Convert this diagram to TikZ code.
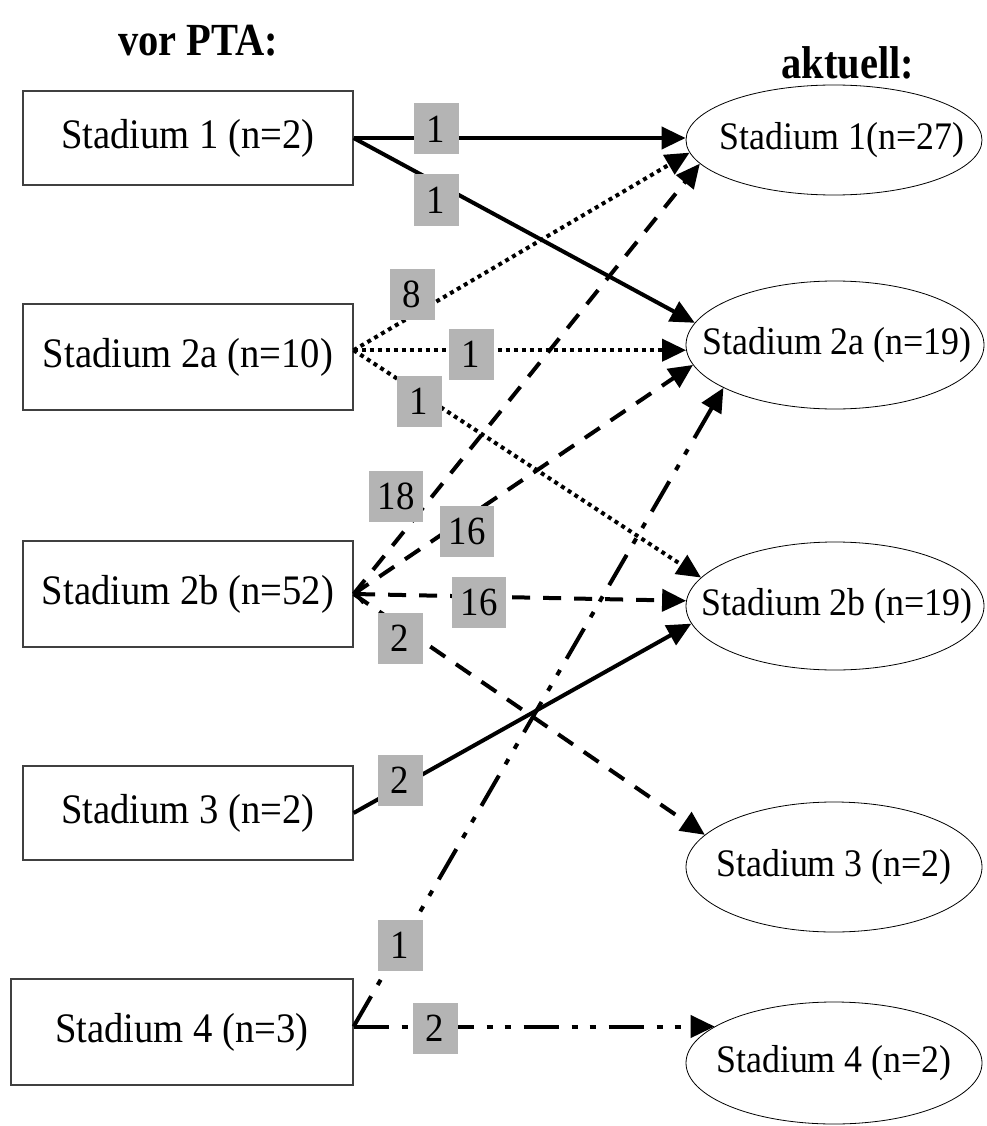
\documentclass[tikz,border=0pt]{standalone}
\usepackage{fontspec}
\setmainfont{Liberation Serif}
\newfontfamily\cfont[FakeStretch=0.92]{Liberation Serif}
\newfontfamily\tfont[FakeStretch=0.88]{Liberation Serif}
\usetikzlibrary{arrows.meta,shapes.geometric}
\definecolor{lblgray}{RGB}{180,180,180}
\begin{document}
\begin{tikzpicture}[x=1pt,y=-1pt,
  boxnode/.style={draw=black!75,line width=1.2pt,minimum width=330pt,minimum height=94pt,inner sep=0pt,font=\cfont\fontsize{42}{46}\selectfont},
  ellnode/.style={draw=black,line width=0.8pt,ellipse,inner sep=0pt},
  elltext/.style={inner sep=0pt,font=\cfont\fontsize{39}{42}\selectfont},
  lbl/.style={fill=lblgray,minimum width=45pt,minimum height=51pt,inner xsep=9pt,inner ysep=0pt,font=\cfont\fontsize{40}{44}\selectfont},
  conn/.style={line width=4pt,-{Triangle[length=24pt,width=22pt]}},
  dotline/.style={conn,dash pattern=on 4pt off 4pt},
  dashline/.style={conn,dash pattern=on 18pt off 13pt},
  ddline/.style={conn,dash pattern=on 35pt off 13pt on 6pt off 12pt on 6pt off 13pt},
  title/.style={font=\tfont\bfseries\fontsize{46}{48}\selectfont}
]
\useasboundingbox (0,0) rectangle (986,1126);
\fill[white] (0,0) rectangle (986,1126);

\node[title] (t1) at (198,41) {vor PTA:};
\node[title] (t2) at (848,63) {aktuell:};

\node[boxnode] (B1) at (188,138) {Stadium 1 (n=2)};
\node[boxnode,minimum height=106pt] (B2a) at (188,357) {Stadium 2a (n=10)};
\node[boxnode,minimum height=106pt] (B2b) at (188,594) {Stadium 2b (n=52)};
\node[boxnode] (B3) at (188,813) {Stadium 3 (n=2)};
\node[boxnode,minimum height=106pt,minimum width=342pt] (B4) at (182,1032) {Stadium 4 (n=3)};

\node[ellnode,minimum width=296pt,minimum height=110pt] (E1) at (834,140) {};
\node[ellnode,minimum width=298pt,minimum height=128pt] (E2a) at (835,345) {};
\node[ellnode,minimum width=298pt,minimum height=128pt] (E2b) at (835,606) {};
\node[ellnode,minimum width=296pt,minimum height=130pt] (E3) at (834,867) {};
\node[ellnode,minimum width=296pt,minimum height=122pt] (E4) at (834,1063) {};
\node[elltext] (E1t) at ([xshift=8pt]E1.center) {Stadium 1(n=27)};
\node[elltext] (E2at) at ([xshift=2pt]E2a.center) {Stadium 2a (n=19)};
\node[elltext] (E2bt) at ([xshift=2pt]E2b.center) {Stadium 2b (n=19)};
\node[elltext] (E3t) at (E3.center) {Stadium 3 (n=2)};
\node[elltext] (E4t) at (E4.center) {Stadium 4 (n=2)};

\coordinate (b2ao) at (B2a.east |- E2a.182);
\coordinate (b4o) at (B4.east |- E4.163);

% Stadium 1
\draw[conn] (B1.east) -- (E1.west |- B1.east);
\draw[conn] (B1.east) -- (E2a.171);
% Stadium 2a
\draw[dotline] (b2ao) -- (E1.185);
\draw[dotline] (b2ao) -- (E2a.182);
\draw[dotline] (b2ao) -- (E2b.168);
% Stadium 2b
\draw[dashline] (B2b.east) -- (E1.190);
\draw[dashline] (B2b.east) -- (E2a.188);
\draw[dashline,{Straight Barb[length=8pt,width=18pt,line width=3pt]}-{Triangle[length=24pt,width=22pt]}] (B2b.east) -- (E2b.178.5);
\draw[dashline] (B2b.east) -- (E3.166);
% Stadium 3
\draw[conn] (B3.east) -- (E2b.187);
% Stadium 4
\draw[ddline] (b4o) -- (E2a.201);
\draw[ddline] (b4o) -- (E4.163);

% labels
\node[lbl] (l1) at (436,129) {1};
\node[lbl] (l2) at (436,200) {1};
\node[lbl] (l3) at (412,294) {8};
\node[lbl] (l4) at (471,354) {1};
\node[lbl] (l5) at (419,401) {1};
\node[lbl] (l6) at (396,496) {18};
\node[lbl] (l7) at (467,531) {16};
\node[lbl] (l8) at (479,602) {16};
\node[lbl] (l9) at (400,638) {2};
\node[lbl] (l10) at (400,780) {2};
\node[lbl] (l11) at (400,945) {1};
\node[lbl] (l12) at (435,1028) {2};
\end{tikzpicture}
\end{document}
